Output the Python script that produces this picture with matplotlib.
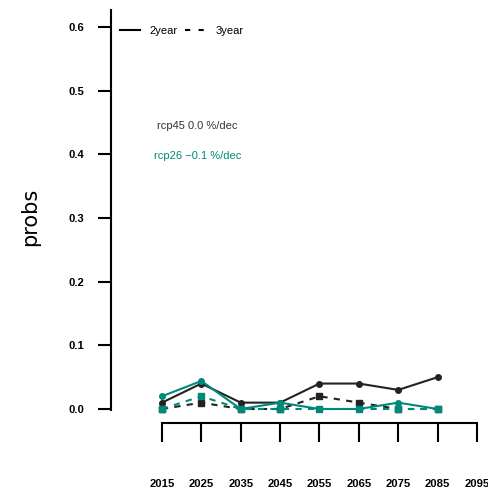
import numpy as np
import matplotlib.pyplot as plt
from matplotlib.lines import Line2D

# Data
years = [2015, 2025, 2035, 2045, 2055, 2065, 2075, 2085]
tick_years = [2015, 2025, 2035, 2045, 2055, 2065, 2075, 2085, 2095]
rcp45_2year = [0.01, 0.04, 0.01, 0.01, 0.04, 0.04, 0.03, 0.05]
rcp45_3year = [0.00, 0.01, 0.00, 0.00, 0.02, 0.01, 0.00, 0.00]
rcp26_2year = [0.02, 0.044, 0.00, 0.01, 0.00, 0.00, 0.01, 0.00]
rcp26_3year = [0.00, 0.02, 0.00, 0.00, 0.00, 0.00, 0.00, 0.00]
yticks = [0.0, 0.1, 0.2, 0.3, 0.4, 0.5, 0.6]

black = '#222222'
teal = '#00897B'

W, H = 489, 491
fig = plt.figure(figsize=(W / 100, H / 100), dpi=100)
ax = fig.add_axes([111 / W, (H - 423) / H, 366 / W, 413 / H])

ax.plot(years, rcp45_2year, color=black, lw=1.5, marker='o', ms=4)
ax.plot(years, rcp45_3year, color=black, lw=1.5, ls=(0, (3, 3)), marker='s', ms=4)
ax.plot(years, rcp26_2year, color=teal, lw=1.5, marker='o', ms=4)
ax.plot(years, rcp26_3year, color=teal, lw=1.5, ls=(0, (3, 3)), marker='s', ms=4)

ax.set_xlim(2002.06, 2095)
ax.set_ylim(-0.022, 0.627)

for s in ['top', 'right']:
    ax.spines[s].set_visible(False)
ax.spines['left'].set_linewidth(1.5)
ax.spines['bottom'].set_linewidth(1.5)
ax.spines['left'].set_bounds(-0.002, 0.627)
ax.spines['bottom'].set_bounds(2015, 2095)

tick_font = dict(family='Liberation Sans', weight='bold', size=8.1)
ax.set_xticks(tick_years)
ax.set_xticklabels([str(y) for y in tick_years], **tick_font)
ax.set_yticks(yticks)
ax.set_yticklabels([f'{v:.1f}' for v in yticks], **tick_font)
ax.tick_params(axis='x', direction='out', length=14, width=1.5, pad=26)
ax.tick_params(axis='y', direction='out', length=9.5, width=1.5, pad=10)

ax.set_ylabel('probs', fontsize=15, labelpad=20)

ax.text(2024, 0.445, 'rcp45 0.0 %/dec', color='#333333', fontsize=8,
        family='Liberation Sans', ha='center', va='center')
ax.text(2024, 0.397, 'rcp26 \u22120.1 %/dec', color=teal, fontsize=8,
        family='Liberation Sans', ha='center', va='center')

handles = [Line2D([], [], color='black', lw=1.5),
           Line2D([], [], color='black', lw=1.5, ls=(0, (2.5, 4)))]
ax.legend(handles, ['2year', '3year'], ncol=2, frameon=False,
          loc='upper left', bbox_to_anchor=(0.0, 0.983),
          prop=dict(family='Liberation Sans', size=8),
          handlelength=1.8, handletextpad=0.9, columnspacing=0.65,
          borderaxespad=0.4)

fig.savefig('out.png', dpi=100)
